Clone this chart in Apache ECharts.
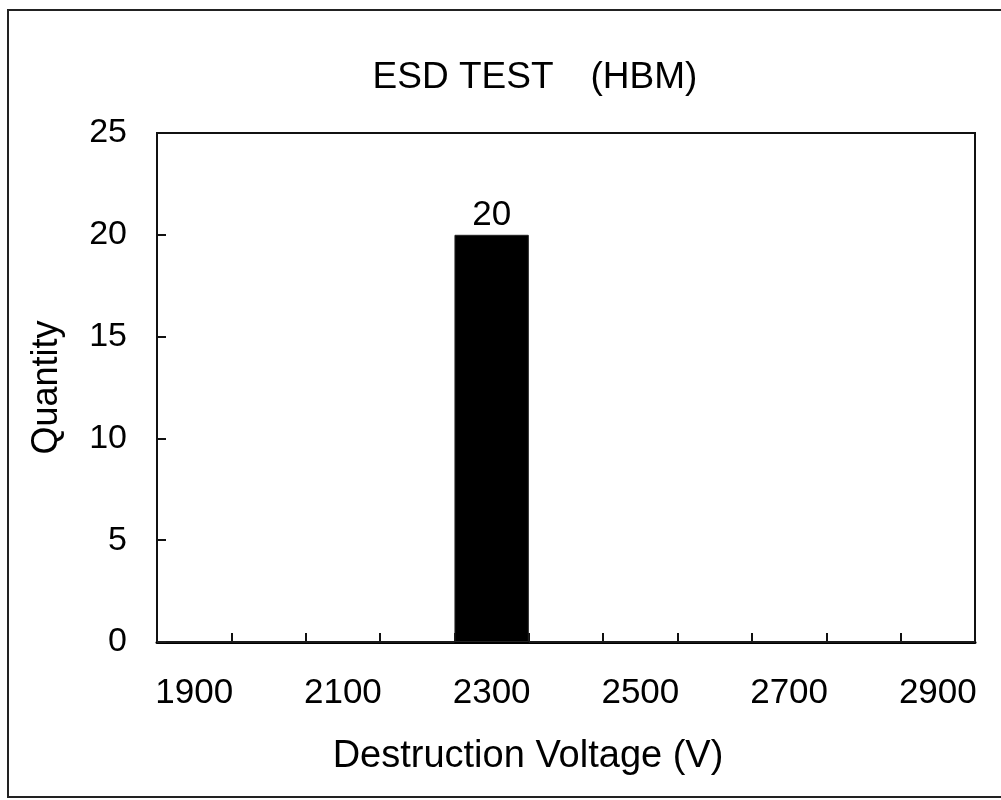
<!DOCTYPE html>
<html><head><meta charset="utf-8">
<script src="https://cdn.jsdelivr.net/npm/echarts@6/dist/echarts.min.js"></script>
<style>html,body{margin:0;padding:0;background:#fff}#c{width:1001px;height:800px}</style>
</head><body><div id="c"></div>
<script>
const categories = ['1900','2000','2100','2200','2300','2400','2500','2600','2700','2800','2900'];
const quantities = [0,0,0,0,20,0,0,0,0,0,0];
const yTicks = [0,5,10,15,20,25];
const titleText = 'ESD TEST\u3000(HBM)';
const xName = 'Destruction Voltage (V)';
const yName = 'Quantity';

const FONT = 'Liberation Sans, Arial, sans-serif';
const chart = echarts.init(document.getElementById('c'), null, {renderer:'canvas'});
chart.setOption({
  animation:false,
  backgroundColor:'#fff',
  graphic:[{type:'rect', shape:{x:8,y:10,width:1010,height:787}, style:{fill:'none', stroke:'#222', lineWidth:2}, silent:true}],
  title:{text:titleText, left:530, top:54, textAlign:'center',
    textStyle:{fontFamily:FONT, fontSize:37, fontWeight:'normal', color:'#000'}},
  grid:{left:157, right:26, top:133, bottom:158, show:true, borderColor:'#111', borderWidth:2, backgroundColor:'transparent'},
  xAxis:{type:'category', data:categories,
    axisLine:{lineStyle:{color:'#000', width:3}},
    axisTick:{show:true, inside:true, interval:0, length:9, alignWithLabel:false, lineStyle:{color:'#111', width:2}},
    axisLabel:{interval:1, margin:34, fontFamily:FONT, fontSize:35, color:'#000'},
    name:xName, nameLocation:'middle', nameGap:96,
    nameTextStyle:{fontFamily:FONT, fontSize:38, color:'#000', padding:[0,76,0,0]}},
  yAxis:{type:'value', min:yTicks[0], max:yTicks[yTicks.length-1], interval:5,
    splitLine:{show:false},
    axisLine:{show:true, lineStyle:{color:'#111', width:2}},
    axisTick:{show:true, inside:true, length:9, lineStyle:{color:'#111', width:2}},
    axisLabel:{margin:30, fontFamily:FONT, fontSize:34, color:'#000'},
    name:yName, nameLocation:'middle', nameGap:92,
    nameTextStyle:{fontFamily:FONT, fontSize:36, color:'#000'}},
  series:[{type:'bar', data:quantities, barWidth:'100%',
    itemStyle:{color:'#000', borderColor:'#222', borderWidth:1},
    label:{show:true, position:'top', distance:2, fontFamily:FONT, fontSize:35, color:'#000',
      formatter:p => p.value > 0 ? p.value : ''}}]
});
</script></body></html>
